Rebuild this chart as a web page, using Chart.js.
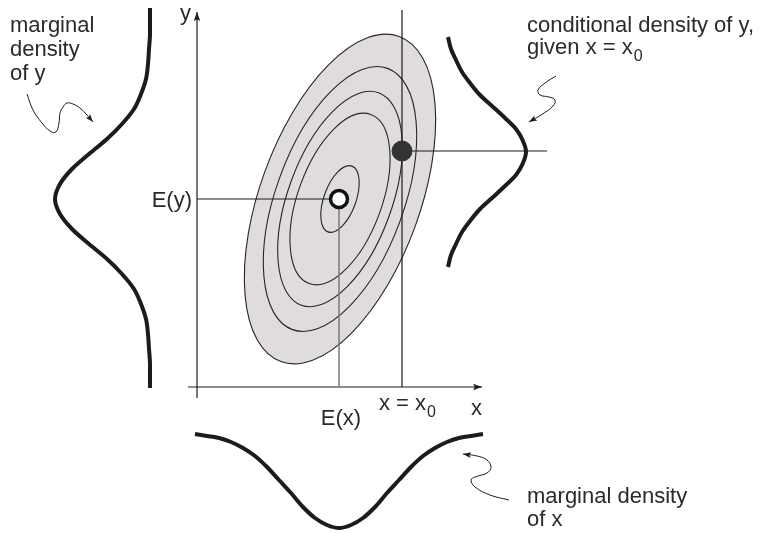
<!DOCTYPE html>
<html>
<head>
<meta charset="utf-8">
<script src="https://cdn.jsdelivr.net/npm/chart.js@4"></script>
<style>
  html, body { margin: 0; padding: 0; background: #fff; }
  #wrap { width: 765px; height: 533px; }
</style>
</head>
<body>
<div id="wrap"><canvas id="diagram"></canvas></div>
<script>
// all values in picture units: x 0..765 to the right, y 0..533 downwards

// mean (open circle) and conditional mode (filled dot)
const mean_x = 340, mean_y = 199;
const cond_x = 402, cond_y = 151;

// contour ellipses of the joint density: semi axes, tilt of major axis (deg)
const contour_a = [173, 139, 113, 90, 35];
const contour_b = [80, 64, 52, 42, 16];
const contour_tilt = 70;

// marginal density of y (left, drawn sideways)
const margy_y = [8, 19, 34, 49, 64, 79, 94, 109, 124, 139, 154, 169, 184, 199,
                 214, 229, 244, 259, 274, 289, 304, 319, 334, 349, 364, 379, 388];
const margy_x = [150, 150, 150, 149, 148, 146, 141, 134, 122, 107, 89, 72, 60, 55,
                 60, 72, 89, 107, 122, 134, 141, 146, 148, 149, 150, 150, 150];

// conditional density of y given x = x0 (right)
const cond_y_y = [37, 49, 60, 72, 83, 95, 106, 118, 129, 141, 152,
                  163, 175, 186, 198, 209, 221, 232, 244, 255, 267];
const cond_y_x = [448, 451, 456, 462, 470, 480, 492, 505, 516, 523, 526,
                  523, 516, 505, 492, 480, 470, 462, 456, 451, 448];

// marginal density of x (bottom, hanging down)
const margx_x = [195, 207, 219, 231, 243, 255, 267, 279, 291, 303, 315, 327, 339,
                 351, 363, 375, 387, 399, 411, 423, 435, 447, 459, 471, 483];
const margx_y = [434, 436, 438, 442, 448, 456, 467, 480, 493, 507, 518, 525, 528,
                 525, 518, 507, 493, 480, 467, 456, 448, 442, 438, 436, 434];

// the three wavy pointer arrows
const ptr1_x = [27, 33, 42, 50, 56, 59, 60, 63, 67, 73, 80, 87, 93];
const ptr1_y = [94, 110, 123, 131, 132, 123, 113, 107, 103, 104, 108, 115, 122];
const ptr2_x = [556, 545, 538, 540, 549, 555, 553, 541, 529];
const ptr2_y = [76, 83, 90, 95, 97, 100, 106, 115, 122];
const ptr3_x = [509, 490, 475, 471, 475, 487, 491, 487, 477, 463];
const ptr3_y = [500, 495, 487, 480, 477, 473, 467, 460, 456, 454];

// labels
const note_text = ["marginal", "density", "of y", "conditional density of y,", "given x = x",
                   "marginal density", "of x", "E(y)", "E(x)", "x = x", "x", "y"];
const note_sub = ["", "", "", "", "0", "", "", "", "", "0", "", ""];
const note_x = [10, 10, 10, 527, 527, 527, 527, 192, 341, 379, 471, 180];
const note_y = [32, 56, 80, 32, 54, 503, 526, 207, 425, 410, 415, 20];
const note_align = ["left", "left", "left", "left", "left", "left", "left", "right", "center", "left", "left", "left"];

const pts = (xs, ys) => xs.map((v, i) => ({ x: v, y: ys[i] }));

const INK = "#1c1c1c";
const FONT = '"Liberation Sans", Arial, sans-serif';

function line(data, opts) {
  return Object.assign({
    data: data,
    showLine: true,
    pointRadius: 0,
    borderColor: INK,
    borderWidth: 1.2,
    tension: 0,
    fill: false,
  }, opts);
}

const smoothX = { borderWidth: 4, cubicInterpolationMode: "monotone" };
const smoothY = { borderWidth: 4, cubicInterpolationMode: "monotone", indexAxis: "y" };

const datasets = [
  // points on top
  { data: [{ x: mean_x - 1, y: mean_y }], pointRadius: 8.5, pointBackgroundColor: "#fff",
    pointBorderColor: "#111", pointBorderWidth: 3.5, showLine: false },
  { data: [{ x: cond_x, y: cond_y }], pointRadius: 10, pointBackgroundColor: "#333",
    pointBorderColor: "#333", pointBorderWidth: 1, showLine: false },
  // guide lines
  line([{ x: 197, y: mean_y }, { x: mean_x - 10, y: mean_y }], {}),
  line([{ x: mean_x - 1, y: mean_y + 10 }, { x: mean_x - 1, y: 387 }], { borderColor: "#7a7a7a", borderWidth: 1.5 }),
  line([{ x: cond_x, y: 10 }, { x: cond_x, y: 387 }], {}),
  line([{ x: cond_x, y: cond_y }, { x: 547, y: cond_y }], {}),
  // axes
  line([{ x: 197, y: 398 }, { x: 197, y: 12 }], { arrow: 9 }),
  line([{ x: 188, y: 387 }, { x: 482, y: 387 }], { arrow: 9 }),
  // density curves
  line(pts(margy_x, margy_y), smoothY),
  line(pts(cond_y_x, cond_y_y), smoothY),
  line(pts(margx_x, margx_y), smoothX),
  // pointer arrows
  line(pts(ptr1_x, ptr1_y), { borderWidth: 1, tension: 0.4, arrow: 8 }),
  line(pts(ptr2_x, ptr2_y), { borderWidth: 1, tension: 0.4, arrow: 8 }),
  line(pts(ptr3_x, ptr3_y), { borderWidth: 1, tension: 0.4, arrow: 8 }),
];

// contour ellipses, under everything else
const contourPlugin = {
  id: "contours",
  beforeDatasetsDraw(chart) {
    const { ctx, scales } = chart;
    const sx = scales.x, sy = scales.y;
    const cx = sx.getPixelForValue(mean_x);
    const cy = sy.getPixelForValue(mean_y);
    const k = Math.abs(sx.getPixelForValue(1) - sx.getPixelForValue(0));
    ctx.save();
    contour_a.forEach((a, i) => {
      ctx.beginPath();
      ctx.ellipse(cx, cy, a * k, contour_b[i] * k, -contour_tilt * Math.PI / 180, 0, Math.PI * 2);
      if (i === 0) {
        ctx.fillStyle = "#e0dcdb";
        ctx.fill();
      }
      ctx.lineWidth = 1.1;
      ctx.strokeStyle = "#262626";
      ctx.stroke();
    });
    ctx.restore();
  },
};

// arrow heads at the end of lines flagged with "arrow"
const arrowPlugin = {
  id: "arrows",
  afterDatasetsDraw(chart) {
    const ctx = chart.ctx;
    chart.data.datasets.forEach((ds, i) => {
      if (!ds.arrow) return;
      const els = chart.getDatasetMeta(i).data;
      const p = els[els.length - 1], q = els[els.length - 2];
      const ang = Math.atan2(p.y - q.y, p.x - q.x);
      const len = ds.arrow, half = len * 0.36;
      ctx.save();
      ctx.translate(p.x, p.y);
      ctx.rotate(ang);
      ctx.beginPath();
      ctx.moveTo(0, 0);
      ctx.lineTo(-len, -half);
      ctx.lineTo(-len * 0.8, 0);
      ctx.lineTo(-len, half);
      ctx.closePath();
      ctx.fillStyle = INK;
      ctx.fill();
      ctx.restore();
    });
  },
};

// text labels with optional subscript
const notePlugin = {
  id: "notes",
  afterDraw(chart) {
    const { ctx, scales } = chart;
    ctx.save();
    ctx.fillStyle = "#2a2a2a";
    ctx.textBaseline = "alphabetic";
    note_text.forEach((t, i) => {
      const px = scales.x.getPixelForValue(note_x[i]);
      const py = scales.y.getPixelForValue(note_y[i]);
      ctx.font = "22px " + FONT;
      ctx.textAlign = note_align[i];
      ctx.fillText(t, px, py);
      if (note_sub[i]) {
        const w = ctx.measureText(t).width;
        ctx.textAlign = "left";
        ctx.font = "16px " + FONT;
        ctx.fillText(note_sub[i], px + w + 1, py + 7);
      }
    });
    ctx.restore();
  },
};

new Chart(document.getElementById("diagram"), {
  type: "line",
  data: { datasets: datasets },
  options: {
    responsive: true,
    maintainAspectRatio: false,
    animation: false,
    layout: { padding: 0, autoPadding: false },
    scales: {
      x: { type: "linear", min: 0, max: 765, display: false },
      y: { type: "linear", min: 0, max: 533, reverse: true, display: false },
    },
    plugins: { legend: { display: false }, tooltip: { enabled: false } },
    elements: { line: { capBezierPoints: false, borderCapStyle: "butt" } },
  },
  plugins: [contourPlugin, arrowPlugin, notePlugin],
});
</script>
</body>
</html>
